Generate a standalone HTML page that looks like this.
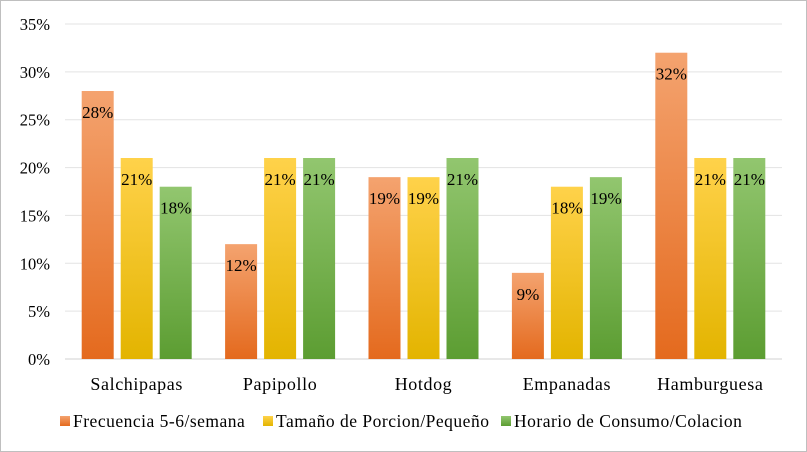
<!DOCTYPE html>
<html><head><meta charset="utf-8"><style>
body{margin:0;background:#fff}
#c{position:relative;width:807px;height:452px;overflow:hidden}
text{font-family:"Liberation Serif",serif;fill:#000}
</style></head><body>
<div id="c">
<svg id="s" width="807" height="452">
<defs>
<linearGradient id="g0" x1="0" y1="0" x2="0" y2="1"><stop offset="0" stop-color="#f4a36f"/><stop offset="1" stop-color="#e46a1e"/></linearGradient>
<linearGradient id="g1" x1="0" y1="0" x2="0" y2="1"><stop offset="0" stop-color="#ffd24a"/><stop offset="1" stop-color="#e3b400"/></linearGradient>
<linearGradient id="g2" x1="0" y1="0" x2="0" y2="1"><stop offset="0" stop-color="#92c66f"/><stop offset="1" stop-color="#5c9d32"/></linearGradient>
</defs>
<rect x="0.5" y="0.5" width="806" height="451" fill="#fff" stroke="#bfbfbf"/>
</svg>
</div>
<script>
const categories=["Salchipapas","Papipollo","Hotdog","Empanadas","Hamburguesa"];
const seriesNames=["Frecuencia 5-6/semana","Tamaño de Porcion/Pequeño","Horario de Consumo/Colacion"];
const frecuencia=[28,12,19,9,32];
const tamano=[21,21,19,18,21];
const horario=[18,21,21,19,21];
const yTicks=[0,5,10,15,20,25,30,35];
const series=[frecuencia,tamano,horario];
const NS="http://www.w3.org/2000/svg";
const svg=document.getElementById('s');
const left=65,right=782,y0=359,y35=24;
const y=v=>y0-(v/35)*(y0-y35);
const catW=(right-left)/categories.length;
function mk(t,a,p){const e=document.createElementNS(NS,t);for(const k in a)e.setAttribute(k,a[k]);(p||svg).appendChild(e);return e;}
yTicks.forEach(t=>{
  const l=mk('line',{x1:left,x2:right,y1:y(t),y2:y(t),stroke:t===0?'#d0d0d0':'#e3e3e3','stroke-width':1});
  
  
  const tx=mk('text',{x:50,y:y(t)+6,'text-anchor':'end','font-size':16.5});
  tx.textContent=t+'%';
  
  
});
const bw=32,gap=7;
categories.forEach((c,i)=>{
  const cx=left+catW*(i+0.5);
  series.forEach((s,j)=>{
    const x=cx-bw*1.5-gap+j*(bw+gap);
    const r=mk('rect',{x:x,y:y(s[i]),width:bw,height:y0-y(s[i]),fill:'url(#g'+j+')'});
    
    
    const t=mk('text',{x:x+bw/2,y:y(s[i])+27,'text-anchor':'middle','font-size':17});
    t.textContent=s[i]+'%';
    
    
  });
  const lt=mk('text',{x:cx,y:390,'text-anchor':'middle','font-size':18,'letter-spacing':0.6});
  lt.textContent=c;
  
  
});
const lx=[60,263,501];
seriesNames.forEach((n,j)=>{
  const g=mk('g',{});
  
  
  mk('rect',{x:lx[j],y:416,width:10,height:10,fill:'url(#g'+j+')'},g);
  const t=mk('text',{x:lx[j]+13,y:427,'font-size':17.5,'letter-spacing':0.5},g);
  t.textContent=n;
});
</script>
</body></html>
